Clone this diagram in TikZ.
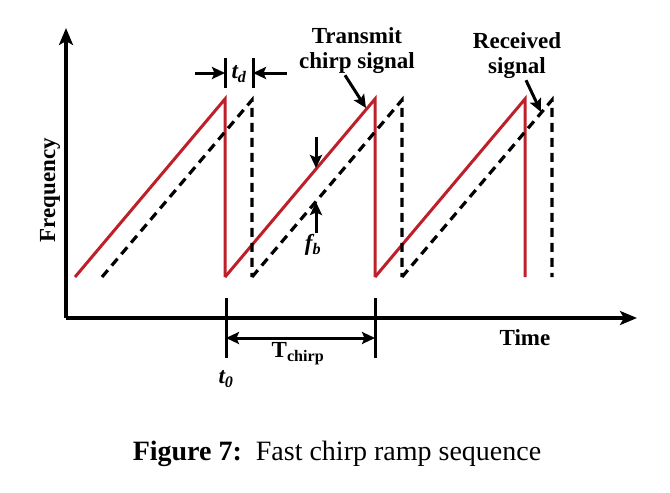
\documentclass[tikz,border=0pt]{standalone}
\usepackage{fontspec}
\setmainfont{Liberation Serif}
\usetikzlibrary{arrows.meta}
\definecolor{chirpred}{RGB}{190,32,42}

\tikzset{
	axistip/.tip = {Stealth[length=17pt, width=14pt, inset=4pt]},
	marktip/.tip = {Stealth[length=13pt, width=12pt, inset=2.5pt]},
	axisline/.style = {line width=3.2pt, -axistip},
	txline/.style = {chirpred, line width=3pt},
	rxline/.style = {black, line width=3.2pt, dash pattern=on 9pt off 6pt},
	markline/.style = {line width=3pt},
	markarrow/.style = {line width=3pt, -marktip},
	lbl/.style = {font=\bfseries\fontsize{23}{25}\selectfont, inner sep=1pt}
}

\begin{document}
\begin{tikzpicture}[x=1pt,y=-1pt]
				\useasboundingbox (0,0) rectangle (670,493);
				% axes
				\coordinate (origin) at (66,318);
				\coordinate (ytip) at (66,28);
				\coordinate (xtip) at (637,318);
				\draw[axisline] (origin) -- (ytip);
				\draw[axisline] (origin) -- (xtip);
				\node[lbl, rotate=90] (freq) at (50,190) {Frequency};
				\node[lbl] (time) at (525,338) {Time};
				% transmitted and received ramps
				\foreach \k in {0,1,2}
				\draw[txline] (75+150*\k,277) -- (225+150*\k,99) -- (225+150*\k,277);
				\foreach \k in {0,1,2}
				\draw[rxline] (102+150*\k,277) -- (252+150*\k,100) -- (252+150*\k,277);
				% t_d
				\draw[markline] (225,58) -- (225,88);
				\draw[markline] (253,58) -- (253,88);
				\coordinate (tdleft) at (225,73);
				\coordinate (tdright) at (253,73);
				\coordinate (tdfromleft) at (195,73);
				\coordinate (tdfromright) at (287,73);
				\draw[markarrow] (tdfromleft) -- (tdleft);
				\draw[markarrow] (tdfromright) -- (tdright);
				\node[lbl] (td) at (239,74) {\itshape t\textsubscript{d}};
				% labels with pointers
				\node[lbl, align=center] (txlabel) at (357,51) {Transmit\\chirp signal};
				\coordinate (txtip) at (366,108);
				\draw[markarrow] ([xshift=-12pt]txlabel.south) -- (txtip);
				\node[lbl, align=center] (rxlabel) at (517,56) {Received\\signal};
				\coordinate (rxtip) at (541,112);
				\draw[markarrow] ([xshift=9pt]rxlabel.south) -- (rxtip);
				% f_b
				\coordinate (fbtop) at (316,137);
				\coordinate (fbtx) at (316,168);
				\coordinate (fbrx) at (316,202);
				\coordinate (fbbottom) at (316,233);
				\draw[markarrow] (fbtop) -- (fbtx);
				\draw[markarrow] (fbbottom) -- (fbrx);
				\node[lbl] (fb) at (313,245) {\itshape f\textsubscript{b}};
				% T_chirp
				\draw[markline] (226,298) -- (226,358);
				\draw[markline] (375,298) -- (375,358);
				\coordinate (tcleft) at (226,338);
				\coordinate (tcright) at (375,338);
				\draw[markarrow, marktip-marktip] (tcleft) -- (tcright);
				\node[lbl] (tchirp) at (298,354) {T\textsubscript{chirp}};
				\node[lbl] (tzero) at (226,379) {\itshape t\textsubscript{0}};
				% caption
				\node[anchor=base, font=\fontsize{28}{30}\selectfont] (caption) at (337,460)
				{\textbf{Figure 7:}\ \ Fast chirp ramp sequence};
\end{tikzpicture}
\end{document}
